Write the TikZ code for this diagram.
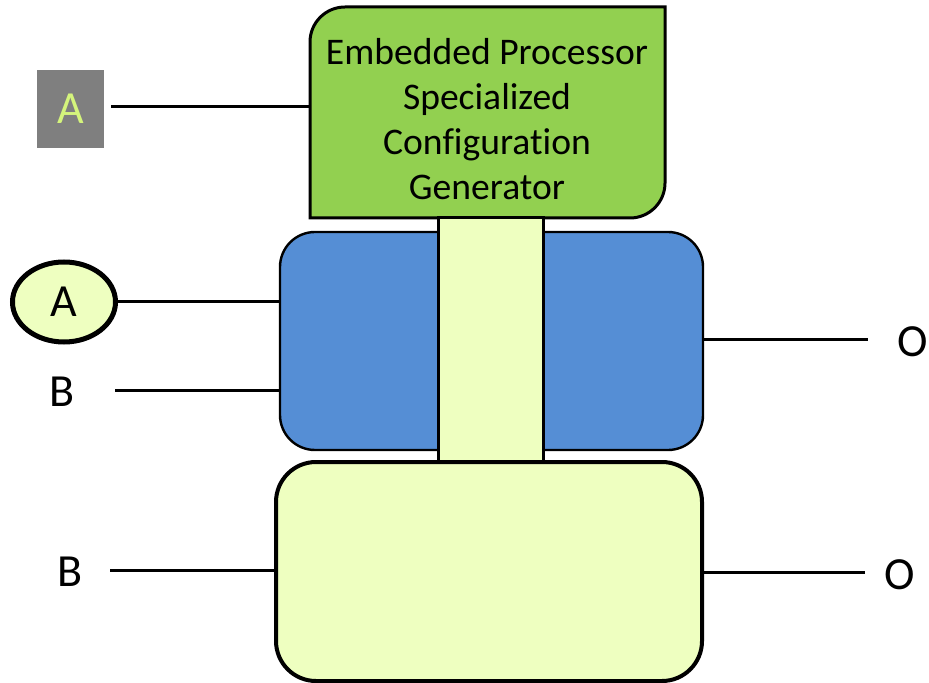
\documentclass[tikz,border=0pt]{standalone}
\usepackage{fontspec}
\setmainfont{Carlito}[Ligatures={NoCommon}]
\usetikzlibrary{shapes.geometric}
\definecolor{cgreen}{HTML}{92D050}
\definecolor{cblue}{HTML}{558ED5}
\definecolor{cyel}{HTML}{EEFFC0}
\definecolor{cgray}{HTML}{7F7F7F}
\definecolor{ctxt}{HTML}{D4F47C}
\begin{document}
\begin{tikzpicture}[x=0.5pt,y=0.5pt,
  conn/.style={line width=1.5pt},
  lbl/.style={font=\fontsize{23}{27}\selectfont, inner sep=0pt},
  boxbase/.style={inner sep=0pt, outer sep=0pt}]
\useasboundingbox (0,0) rectangle (929,-683);
\fill[white] (0,0) rectangle (929,-683);
% green box
\node[boxbase, minimum width=177.5pt, minimum height=105.5pt] (gbox) at (487.5,-112.5) {};
\draw[fill=cgreen, line width=1.5pt] (gbox.south west) -- ([yshift=-17.5pt]gbox.north west)
  arc[start angle=180,end angle=90,radius=17.5pt] -- (gbox.north east)
  -- ([yshift=17.5pt]gbox.south east) arc[start angle=0,end angle=-90,radius=17.5pt] -- cycle;
\node[align=center, font=\fontsize{18.8}{22.4}\selectfont, inner sep=0pt] (gtext) at (487,-119)
  {Embedded Processor\\Specialized\\Configuration\\Generator};
% blue box
\node[boxbase, draw, fill=cblue, line width=1.2pt, rounded corners=17.5pt,
  minimum width=211.5pt, minimum height=109pt] (blue) at (491.5,-341) {};
% connector column
\node[boxbase, draw, fill=cyel, line width=1.5pt, minimum width=52.5pt, minimum height=122pt] (col) at (490.5,-340) {};
% bottom box
\node[boxbase, draw, fill=cyel, line width=2pt, rounded corners=20pt,
  minimum width=213pt, minimum height=109.5pt] (bot) at (489,-571.5) {};
% gray A
\node[boxbase, fill=cgray, minimum width=33.5pt, minimum height=39pt, text=ctxt,
  font=\fontsize{23}{27}\selectfont] (ga) at (70.5,-109) {A};
% ellipse A
\node[boxbase, ellipse, draw, fill=cyel, line width=2.5pt, minimum width=51.5pt, minimum height=40pt,
  font=\fontsize{23}{27}\selectfont] (ea) at (64,-302) {A};
% labels
\node[lbl] (b1) at (62,-392) {B};
\node[lbl] (o1) at (913,-342) {O};
\node[lbl] (b2) at (70,-572) {B};
\node[lbl] (o2) at (900,-575) {O};
% line ends
\coordinate (gae) at (111,-107);
\coordinate (b1e) at (115,-390);
\coordinate (o1e) at (868,-340);
\coordinate (b2e) at (110,-570);
\coordinate (o2e) at (865,-572);
% connectors
\draw[conn] (gae) -- (gbox.west |- gae);
\draw[conn] (ea.east) -- (blue.west |- ea.east);
\draw[conn] (b1e) -- (blue.west |- b1e);
\draw[conn] (blue.east |- o1e) -- (o1e);
\draw[conn] (b2e) -- (bot.west |- b2e);
\draw[conn] (bot.east |- o2e) -- (o2e);
\end{tikzpicture}
\end{document}
